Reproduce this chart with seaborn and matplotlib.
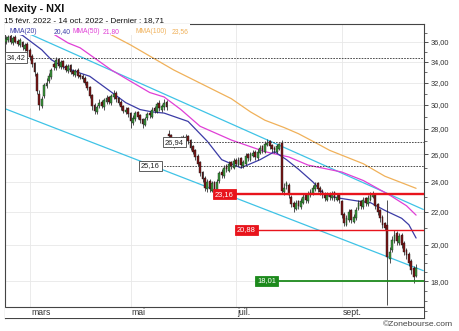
import matplotlib
matplotlib.use("Agg")
import matplotlib.pyplot as plt
import seaborn as sns
import pandas as pd
from matplotlib.ticker import FixedLocator, FuncFormatter, NullFormatter
from matplotlib.patches import Rectangle

sns.set_style("white")
plt.rcParams['font.family'] = ['Liberation Sans', 'DejaVu Sans']

# cours journaliers Nexity, une valeur par séance (15/02/2022 -> 14/10/2022)
opens = [36.0, 36.2, 36.6, 35.9, 36.5, 36.1, 35.7, 36.0, 35.3, 35.8,
         35.2, 34.6, 33.9, 32.8, 31.0, 29.9, 30.8, 31.7, 32.2, 32.5,
         33.8, 33.4, 34.3, 33.5, 34.1, 33.6, 33.1, 33.7, 33.1, 32.7,
         33.2, 32.7, 32.6, 32.4, 32.1, 31.6, 30.9, 30.0, 29.4, 29.9,
         30.3, 29.8, 30.3, 30.7, 30.2, 30.7, 31.1, 30.6, 30.3, 29.9,
         29.4, 29.7, 29.3, 28.5, 28.8, 29.4, 29.1, 28.8, 28.3, 28.9,
         29.3, 29.0, 29.7, 29.4, 30.2, 29.6, 29.8, 30.3, 27.6, 27.5,
         26.9, 26.7, 27.2, 26.8, 27.3, 27.0, 27.4, 27.1, 26.6, 26.3,
         25.9, 25.4, 24.7, 24.3, 23.5, 24.1, 23.4, 24.0, 23.3, 24.1,
         24.7, 24.4, 25.1, 24.8, 25.4, 25.0, 25.6, 25.2, 25.7, 25.1,
         25.3, 26.0, 25.6, 25.9, 26.2, 25.7, 26.1, 26.6, 26.2, 26.7,
         27.0, 26.7, 26.5, 26.2, 26.4, 26.9, 23.3, 23.7, 23.8, 23.0,
         22.6, 22.2, 22.7, 22.3, 22.6, 23.1, 22.7, 23.1, 23.2, 23.5,
         23.9, 23.6, 23.4, 23.2, 22.8, 23.2, 22.9, 23.3, 22.8, 23.1,
         22.7, 21.9, 21.2, 21.5, 22.1, 21.4, 21.6, 22.2, 22.7, 22.3,
         22.9, 22.5, 22.8, 23.0, 23.1, 22.5, 22.1, 21.7, 21.3, 21.2,
         19.2, 19.7, 20.2, 20.7, 20.1, 20.6, 20.1, 19.7, 19.5, 19.1,
         18.7, 18.3]
highs = [36.6, 36.7, 36.8, 36.6, 36.7, 36.3, 36.4, 36.1, 35.9, 36.0,
         35.4, 34.8, 34.0, 33.0, 31.3, 30.8, 32.0, 32.4, 32.9, 33.4,
         34.0, 34.5, 34.4, 34.2, 34.2, 33.8, 33.8, 33.8, 33.3, 33.3,
         33.4, 32.9, 32.8, 32.6, 32.2, 31.7, 31.0, 30.2, 30.0, 30.5,
         30.4, 30.6, 30.9, 30.8, 31.0, 31.3, 31.2, 30.7, 30.4, 30.0,
         29.8, 29.8, 29.4, 29.1, 29.5, 29.5, 29.2, 28.9, 29.0, 29.4,
         29.5, 29.8, 29.9, 30.3, 30.4, 30.1, 30.5, 30.4, 27.9, 27.6,
         27.1, 27.3, 27.3, 27.4, 27.5, 27.6, 27.5, 27.2, 26.7, 26.4,
         26.0, 25.5, 24.8, 24.4, 24.2, 24.2, 24.1, 24.1, 24.2, 24.8,
         24.9, 25.2, 25.3, 25.5, 25.5, 25.7, 25.7, 25.8, 25.8, 25.6,
         26.1, 26.1, 26.2, 26.3, 26.3, 26.4, 26.7, 26.7, 27.0, 27.2,
         27.1, 26.8, 26.6, 26.8, 26.9, 27.1, 23.9, 24.1, 23.9, 23.1,
         22.7, 22.8, 22.8, 22.9, 23.2, 23.2, 23.4, 23.5, 23.8, 24.0,
         24.0, 23.7, 23.5, 23.3, 23.3, 23.3, 23.4, 23.4, 23.2, 23.2,
         22.8, 22.0, 21.8, 22.2, 22.2, 21.9, 22.3, 22.8, 22.8, 23.0,
         23.0, 23.1, 23.3, 23.4, 23.2, 22.6, 22.2, 21.8, 21.4, 22.8,
         19.9, 20.5, 20.9, 20.8, 20.7, 20.7, 20.2, 19.8, 19.6, 19.2,
         18.8, 18.9]
lows = [35.8, 36.0, 35.8, 35.7, 35.9, 35.6, 35.5, 35.2, 35.1, 34.9,
        34.2, 33.5, 32.6, 31.0, 29.6, 29.7, 30.6, 31.5, 32.0, 32.3,
        33.2, 33.2, 33.4, 33.3, 33.3, 33.0, 32.9, 32.8, 32.6, 32.5,
        32.4, 32.3, 32.1, 31.8, 31.3, 30.6, 29.6, 29.2, 29.2, 29.7,
        29.7, 29.6, 30.1, 30.1, 30.0, 30.5, 30.3, 30.0, 29.6, 29.3,
        29.2, 29.0, 28.1, 28.3, 28.6, 28.8, 28.5, 28.1, 28.2, 28.7,
        28.9, 28.9, 29.3, 29.3, 29.5, 29.4, 29.6, 29.6, 27.1, 26.7,
        26.5, 26.6, 26.7, 26.7, 26.9, 26.9, 26.8, 26.3, 26.0, 25.6,
        25.1, 24.4, 24.0, 23.4, 23.3, 23.3, 23.3, 23.15, 23.2, 23.9,
        24.3, 24.3, 24.7, 24.7, 24.9, 24.9, 25.1, 25.1, 25.0, 25.0,
        25.2, 25.5, 25.5, 25.8, 25.6, 25.6, 26.0, 26.1, 26.1, 26.6,
        26.4, 26.2, 26.1, 26.1, 26.3, 23.2, 23.1, 23.5, 22.9, 22.3,
        22.0, 22.1, 22.2, 22.2, 22.5, 22.6, 22.6, 23.0, 23.1, 23.4,
        23.3, 23.1, 22.9, 22.7, 22.7, 22.8, 22.8, 22.7, 22.7, 22.6,
        21.6, 21.1, 21.1, 21.4, 21.3, 21.3, 21.5, 22.1, 22.2, 22.2,
        22.4, 22.4, 22.7, 22.9, 22.2, 21.8, 21.4, 21.0, 20.9, 16.8,
        19.0, 19.6, 20.1, 20.0, 20.0, 19.8, 19.4, 19.2, 18.8, 18.4,
        17.9, 18.2]
closes = [36.3, 36.5, 36.0, 36.4, 36.0, 35.8, 36.2, 35.5, 35.7, 35.1,
          34.5, 33.8, 33.0, 31.2, 30.0, 30.5, 31.8, 32.0, 32.6, 33.2,
          33.5, 34.2, 33.6, 34.0, 33.5, 33.2, 33.6, 33.0, 32.8, 33.1,
          32.6, 32.5, 32.3, 32.0, 31.5, 30.8, 29.9, 29.5, 29.8, 30.2,
          29.9, 30.4, 30.6, 30.3, 30.8, 31.0, 30.5, 30.2, 29.8, 29.5,
          29.6, 29.2, 28.6, 28.9, 29.3, 29.0, 28.7, 28.4, 28.8, 29.2,
          29.1, 29.6, 29.5, 30.1, 29.7, 29.9, 30.2, 29.8, 27.4, 27.0,
          26.8, 27.1, 26.9, 27.2, 27.1, 27.3, 27.0, 26.5, 26.2, 25.8,
          25.3, 24.6, 24.2, 23.6, 24.0, 23.5, 23.9, 23.4, 24.0, 24.6,
          24.5, 25.0, 24.9, 25.3, 25.1, 25.5, 25.3, 25.6, 25.2, 25.4,
          25.9, 25.7, 26.0, 26.1, 25.8, 26.2, 26.5, 26.3, 26.8, 26.9,
          26.6, 26.4, 26.3, 26.6, 26.8, 23.4, 23.6, 23.9, 23.1, 22.5,
          22.3, 22.6, 22.4, 22.7, 23.0, 22.8, 23.2, 23.3, 23.6, 23.8,
          23.5, 23.3, 23.1, 22.9, 23.1, 23.0, 23.2, 22.9, 23.0, 22.8,
          21.8, 21.3, 21.6, 22.0, 21.5, 21.7, 22.1, 22.6, 22.4, 22.8,
          22.6, 22.9, 23.1, 23.2, 22.4, 22.0, 21.6, 21.2, 21.0, 19.3,
          19.6, 20.3, 20.6, 20.2, 20.5, 20.0, 19.6, 19.4, 19.0, 18.6,
          18.2, 18.71]

# moyennes mobiles (séance, valeur)
mma20_idx = [0, 7, 15, 19, 24, 31, 35, 43, 50, 56, 61, 66, 76, 84, 90,
             98, 106, 112, 117, 122, 128, 133, 139, 147, 152, 158, 165, 168, 171]
mma20_val = [37.3, 36.7, 35.2, 34.2, 33.5, 32.9, 32.6, 31.3, 30.2, 29.6, 29.4,
             29.3, 28.6, 27.0, 25.6, 25.0, 25.6, 26.2, 25.6, 24.9, 24.0, 23.1,
             22.9, 22.7, 22.6, 22.1, 21.6, 21.2, 20.4]
mma50_idx = [8, 17, 26, 31, 38, 44, 53, 60, 66, 73, 81, 94, 108, 118, 126,
             140, 149, 160, 167, 171]
mma50_val = [38.7, 37.3, 35.9, 35.4, 34.2, 33.2, 32.0, 31.1, 30.7, 29.6, 28.2,
             27.1, 26.2, 25.8, 25.2, 24.7, 24.1, 23.1, 22.4, 21.8]
mma100_idx = [24, 36, 52, 70, 87, 94, 102, 108, 116, 122, 130, 135, 149, 158, 171]
mma100_val = [39.4, 37.85, 35.7, 33.2, 31.3, 30.55, 29.4, 28.7, 28.1, 27.6,
              26.8, 26.3, 25.3, 24.4, 23.56]

# canal de tendance
chan_idx = [0, 174]
chan_high = [38.0, 22.16]
chan_low = [29.65, 18.56]

# niveaux
levels = [34.42, 26.94, 25.16, 23.16, 20.88, 18.01]
level_labels = ["34,42", "26,94", "25,16", "23,16", "20,88", "18,01"]
level_start = [0.5, 66.4, 56.4, 87.2, 96.4, 104.7]

month_idx = [10, 52, 96, 140]
month_lbl = ["mars", "mai", "juil.", "sept."]

yticks = [18, 20, 22, 24, 26, 28, 30, 32, 34, 36]
yminor = [16.5, 17, 17.5, 18.5, 19, 19.5, 21, 23, 25, 27, 29, 31, 33, 35, 37]

c20, c50, c100 = "#3b3ba6", "#e03fd6", "#f0b15a"
cyan = "#3fc3e6"

fig = plt.figure(figsize=(4.6, 3.31), dpi=100)
W, H = 460, 331
ax = fig.add_axes([5 / W, 13 / H, 419 / W, 294 / H])

df = pd.DataFrame({"o": opens, "h": highs, "l": lows, "c": closes})
df["i"] = range(len(df))
up = df["c"] >= df["o"]
body_lo = df[["o", "c"]].min(axis=1)
body_hi = df[["o", "c"]].max(axis=1)

# lignes de tendance et moyennes
sns.lineplot(x=chan_idx, y=chan_high, ax=ax, color=cyan, lw=0.9, zorder=2)
sns.lineplot(x=chan_idx, y=chan_low, ax=ax, color=cyan, lw=0.9, zorder=2)
sns.lineplot(x=mma100_idx, y=mma100_val, ax=ax, color=c100, lw=0.9, zorder=2)
sns.lineplot(x=mma50_idx, y=mma50_val, ax=ax, color=c50, lw=0.9, zorder=2)
sns.lineplot(x=mma20_idx, y=mma20_val, ax=ax, color=c20, lw=0.9, zorder=2)

# chandeliers
ax.vlines(df["i"], df["l"], df["h"], color="#222222", lw=0.55, zorder=3)
ax.bar(df["i"], body_hi - body_lo, bottom=body_lo, width=0.7,
       color=["#3a9a3a" if u else "#7d1414" for u in up],
       edgecolor="#1a1a1a", linewidth=0.3, zorder=3)

ax.set_yscale("log")
ax.set_xlim(-0.3, 174.3)
ax.set_ylim(16.18, 37.93)

band = 11 / 294
xt = ax.get_xaxis_transform()

# grille
ax.hlines(yticks, -0.3, 174.3, color="#e8e8e8", lw=0.6, zorder=0)
ax.vlines(month_idx, band, 1, transform=xt, color="#e8e8e8", lw=0.6, zorder=0)

# niveaux
styles = [("dash", "#333333", 0.6), ("dash", "#333333", 0.6), ("dash", "#333333", 0.6),
          ("solid", "#e8141c", 1.7), ("solid", "#e8141c", 1.0), ("solid", "#1c8a1c", 1.3)]
for v, lab, s, (kind, col, lw) in zip(levels, level_labels, level_start, styles):
    ls = (0, (2, 1.4)) if kind == "dash" else "-"
    ax.plot([s, 174.3], [v, v], color=col, lw=lw, ls=ls, zorder=4)
    if kind == "dash":
        bb = dict(boxstyle="square,pad=0.22", fc="white", ec="#444444", lw=0.6)
        tc = "#222222"
    else:
        bb = dict(boxstyle="square,pad=0.22", fc=col, ec=col, lw=0.6)
        tc = "white"
    ax.text(s, v, lab, ha="left", va="center", fontsize=5.4, color=tc,
            bbox=bb, zorder=6)

# bande des mois
ax.add_patch(Rectangle((0, 0), 1, band, transform=ax.transAxes, fc="white",
                       ec="none", zorder=5))
ax.plot([0, 1], [band, band], transform=ax.transAxes, color="#444444", lw=0.8, zorder=6)
for m, lab in zip(month_idx, month_lbl):
    ax.text(m + 0.5, 0.5 * band, lab, transform=xt, ha="left", va="center",
            fontsize=6.2, color="#333333", zorder=7)

# fond blanc de la légende
ax.add_patch(Rectangle((0, 1 - 10.5 / 294), 185 / 419, 10.5 / 294,
                       transform=ax.transAxes, fc="white", ec="none", zorder=5))

# axes
for sp in ax.spines.values():
    sp.set_color("#444444")
    sp.set_linewidth(0.8)
ax.set_xticks([])
ax.yaxis.tick_right()
ax.yaxis.set_major_locator(FixedLocator(yticks))
ax.yaxis.set_minor_locator(FixedLocator(yminor))
ax.yaxis.set_major_formatter(FuncFormatter(lambda v, p: f"{v:.2f}".replace(".", ",")))
ax.yaxis.set_minor_formatter(NullFormatter())
ax.tick_params(axis="y", which="major", length=3, width=0.6, labelsize=5.3,
               pad=1.5, colors="#333333", direction="out")
ax.tick_params(axis="y", which="minor", length=2, width=0.5, colors="#333333",
               direction="out")
ax.set_xlabel("")
ax.set_ylabel("")

# textes
fig.text(4 / W, 1 - 12.5 / H, "Nexity - NXI", fontsize=7.8, weight="bold",
         va="baseline", color="#111111")
fig.text(4 / W, 1 - 22.5 / H, "15 févr. 2022 - 14 oct. 2022 - Dernier : 18,71",
         fontsize=5.9, va="baseline", color="#111111")
legend_items = [(10, "MMA(20)", c20), (54, "20,40", c20), (73, "MMA(50)", c50),
                (103, "21,80", c50), (135, "MMA(100)", c100), (172, "23,56", c100)]
for px, txt, col in legend_items:
    fig.text(px / W, 1 - 33 / H, txt, fontsize=4.9, color=col, va="baseline", zorder=10)
fig.text(453 / W, 1 - 325 / H, "©Zonebourse.com", fontsize=6.1, ha="right",
         va="center", color="#444444")

fig.savefig("out.png", dpi=100)
